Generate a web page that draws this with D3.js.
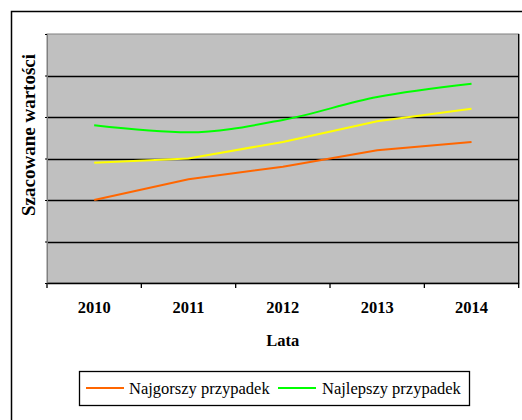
<!DOCTYPE html>
<html><head><meta charset="utf-8">
<script src="https://cdn.jsdelivr.net/npm/d3@7"></script>
<style>body{margin:0;background:#fff}svg{display:block}text{font-family:'Liberation Serif','Times New Roman',Times,'DejaVu Serif',serif}</style>
</head><body>
<script>
const years = ["2010","2011","2012","2013","2014"];
const worst = [20, 25, 28, 32, 34];
const middle = [29, 30, 34, 39, 42];
const best = [38, 36.3, 39.3, 44.8, 48];
const yTicks = [0, 10, 20, 30, 40, 50, 60];
const legendNames = ["Najgorszy przypadek", "Najlepszy przypadek"];

const W = 522, H = 420;
const svg = d3.select("body").append("svg").attr("width", W).attr("height", H);
svg.append("rect").attr("x", 11.5).attr("y", 11.5).attr("width", 530).attr("height", 430)
  .attr("fill", "#fff").attr("stroke", "#000").attr("stroke-width", 1.5);

const L = 47, R = 518.7, T = 34, B = 283;
const x = d3.scaleBand().domain(years).range([L, R]).padding(0);
const y = d3.scaleLinear().domain([0, 60]).range([B, T]);
const cx = d => x(d) + x.bandwidth() / 2;

svg.append("rect").attr("x", L).attr("y", T).attr("width", R - L).attr("height", B - T)
  .attr("fill", "#c0c0c0").attr("stroke", "#808080").attr("stroke-width", 1);

svg.append("g").selectAll("line").data(yTicks.slice(1, -1)).join("line")
  .attr("x1", L).attr("x2", R).attr("y1", d => Math.round(y(d)) + 0.5).attr("y2", d => Math.round(y(d)) + 0.5)
  .attr("stroke", "#000").attr("stroke-width", 1.3);

svg.append("line").attr("x1", R).attr("x2", R).attr("y1", T).attr("y2", B).attr("stroke", "#000").attr("stroke-width", 1.3);

const yAxis = svg.append("g").attr("transform", `translate(${L},0)`)
  .call(d3.axisLeft(y).tickValues(yTicks).tickSize(2).tickFormat(""));
yAxis.select(".domain").attr("stroke", "#808080");
yAxis.selectAll(".tick line").attr("stroke", "#000");

const xAxis = svg.append("g").attr("transform", `translate(0,${B})`)
  .call(d3.axisBottom(x).tickSize(0).tickFormat(""));
xAxis.select(".domain").attr("stroke", "#000").attr("stroke-width", 1.3);
const edges = years.map(d => x(d)).concat([R]);
xAxis.selectAll(".edge").data(edges).join("line").attr("class", "edge")
  .attr("x1", d => d).attr("x2", d => d).attr("y1", 0).attr("y2", 5)
  .attr("stroke", "#000").attr("stroke-width", 1.3);

svg.append("g").selectAll("text").data(years).join("text")
  .attr("x", d => cx(d)).attr("y", 313).attr("text-anchor", "middle")
  .attr("font-weight", "bold").attr("font-size", 16.5).text(d => d);

svg.append("text").attr("x", (L + R) / 2).attr("y", 346).attr("text-anchor", "middle")
  .attr("font-weight", "bold").attr("font-size", 16.5).text("Lata");

svg.append("text").attr("transform", "translate(35,135) rotate(-90)").attr("text-anchor", "middle")
  .attr("font-weight", "bold").attr("font-size", 19).text("Szacowane wartości");

const lineL = d3.line().x((d, i) => cx(years[i])).y(d => y(d));
const lineS = d3.line().x((d, i) => cx(years[i])).y(d => y(d)).curve(d3.curveMonotoneX);

svg.append("path").datum(middle).attr("d", lineL).attr("fill", "none").attr("stroke", "#ffff00").attr("stroke-width", 2);
svg.append("path").datum(worst).attr("d", lineL).attr("fill", "none").attr("stroke", "#ff6600").attr("stroke-width", 2);
svg.append("path").datum(best).attr("d", lineS).attr("fill", "none").attr("stroke", "#00ff00").attr("stroke-width", 2);

const lg = svg.append("g");
lg.append("rect").attr("x", 79.5).attr("y", 371.5).attr("width", 390).attr("height", 34)
  .attr("fill", "#fff").attr("stroke", "#000").attr("stroke-width", 1.3);
const legendItems = [{name: legendNames[0], color: "#ff6600", x0: 86, tx: 129},
                     {name: legendNames[1], color: "#00ff00", x0: 278, tx: 322}];
legendItems.forEach(it => {
  lg.append("line").attr("x1", it.x0).attr("x2", it.x0 + 38).attr("y1", 388).attr("y2", 388)
    .attr("stroke", it.color).attr("stroke-width", 2);
  lg.append("text").attr("x", it.tx).attr("y", 394).attr("font-size", 16.5).text(it.name);
});
</script>
</body></html>
